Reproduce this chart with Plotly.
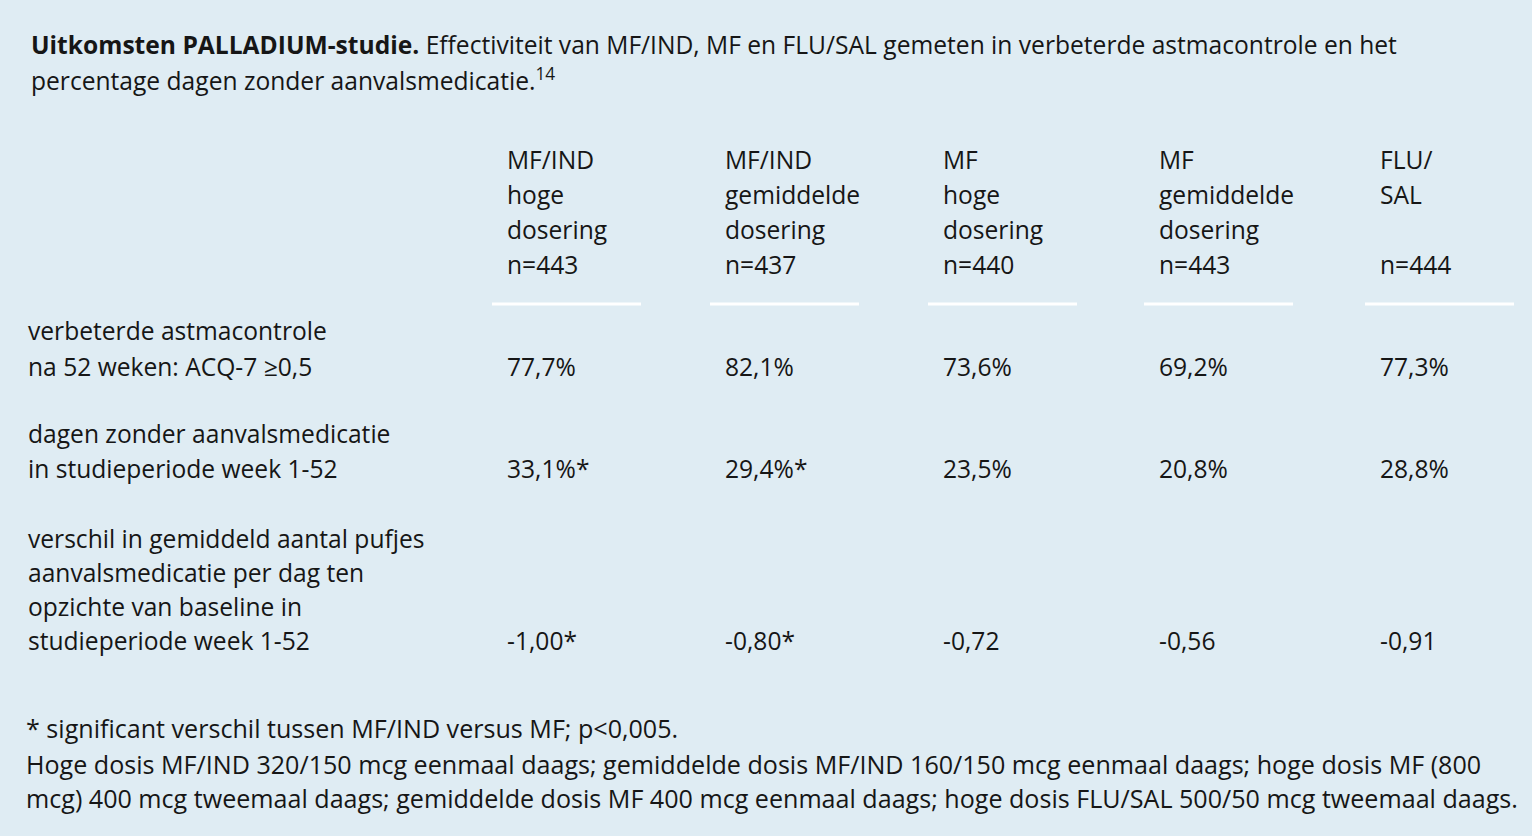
import plotly.graph_objects as go

# table content
title_bold = "Uitkomsten PALLADIUM-studie."
title_lines = [
    " Effectiviteit van MF/IND, MF en FLU/SAL gemeten in verbeterde astmacontrole en het",
    "percentage dagen zonder aanvalsmedicatie.<sup>14</sup>",
]
header_lines = [
    ["MF/IND", "hoge", "dosering", "n=443"],
    ["MF/IND", "gemiddelde", "dosering", "n=437"],
    ["MF", "hoge", "dosering", "n=440"],
    ["MF", "gemiddelde", "dosering", "n=443"],
    ["FLU/", "SAL", "", "n=444"],
]
row_labels = [
    ["verbeterde astmacontrole", "na 52 weken: ACQ-7 ≥0,5"],
    ["dagen zonder aanvalsmedicatie", "in studieperiode week 1-52"],
    ["verschil in gemiddeld aantal pufjes", "aanvalsmedicatie per dag ten",
     "opzichte van baseline in", "studieperiode week 1-52"],
]
acq_control = ["77,7%", "82,1%", "73,6%", "69,2%", "77,3%"]
free_days = ["33,1%*", "29,4%*", "23,5%", "20,8%", "28,8%"]
puff_change = ["-1,00*", "-0,80*", "-0,72", "-0,56", "-0,91"]
footnotes = [
    "* significant verschil tussen MF/IND versus MF; p<0,005.",
    "Hoge dosis MF/IND 320/150 mcg eenmaal daags; gemiddelde dosis MF/IND 160/150 mcg eenmaal daags; hoge dosis MF (800",
    "mcg) 400 mcg tweemaal daags; gemiddelde dosis MF 400 mcg eenmaal daags; hoge dosis FLU/SAL 500/50 mcg tweemaal daags.",
]

# layout (pixels)
W, H = 1532, 836
BG = "#dfecf3"
INK = "#161616"
FONT = "Open Sans"
FS = 24.6
FS_FOOT = 25.1
col_x = [505, 723, 941, 1157, 1378]
header_y = [159, 194, 229, 264]
rule_y = 304
row_y = [[330, 366], [433, 468], [538, 572, 606, 640]]
foot_y = [728, 764, 798]

fig = go.Figure()
ann = []


def txt(x, y, s, size=FS):
    ann.append(dict(x=x, y=y, text=s, xref="x", yref="y", showarrow=False,
                    xanchor="left", yanchor="middle",
                    font=dict(family=FONT, size=size, color=INK)))


txt(29, 44, "<b>" + title_bold + "</b>" + title_lines[0])
txt(29, 79, title_lines[1])

for cx, lines in zip(col_x, header_lines):
    for y, s in zip(header_y, lines):
        if s:
            txt(cx, y, s)
    fig.add_shape(type="line", x0=cx - 13, x1=cx + 136, y0=rule_y, y1=rule_y,
                  line=dict(color="white", width=3))

for lines, ys in zip(row_labels, row_y):
    for y, s in zip(ys, lines):
        txt(26, y, s)

for vals, ys in zip([acq_control, free_days, puff_change], row_y):
    for cx, v in zip(col_x, vals):
        txt(cx, ys[-1], v)

for y, s in zip(foot_y, footnotes):
    txt(24, y, s, FS_FOOT)

fig.update_layout(
    width=W, height=H,
    margin=dict(l=0, r=0, t=0, b=0),
    paper_bgcolor=BG, plot_bgcolor=BG,
    annotations=ann,
    showlegend=False,
    xaxis=dict(range=[0, W], visible=False, fixedrange=True),
    yaxis=dict(range=[H, 0], visible=False, fixedrange=True),
)

fig.write_html("out.html", config={"displayModeBar": False},
               post_script="document.body.style.margin='0';"
                           "document.body.style.background='" + BG + "';")
